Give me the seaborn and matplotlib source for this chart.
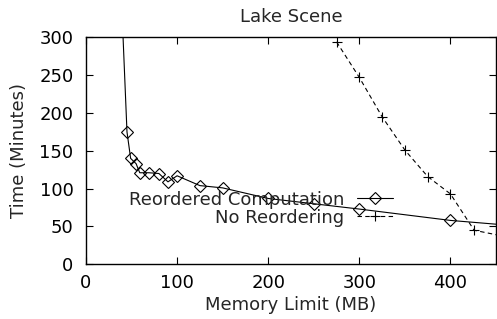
import numpy as np
import pandas as pd
import matplotlib
matplotlib.use("Agg")
import matplotlib.pyplot as plt
import seaborn as sns

# Data
reord_mem = [40, 45, 49, 55, 59, 69, 80, 90, 100, 125, 150, 200, 250, 300, 400, 500]
reord_time = [320, 175, 140, 133, 121, 121, 120, 109, 117, 104, 101, 87, 80, 73, 58, 48]
noreord_mem = [275, 300, 325, 350, 375, 400, 426, 475]
noreord_time = [294, 247, 195, 151, 116, 93, 45, 33]

title = "Lake Scene"
xlabel = "Memory Limit (MB)"
ylabel = "Time (Minutes)"
xticks = [0, 100, 200, 300, 400]
yticks = [0, 50, 100, 150, 200, 250, 300]

sns.set_theme(style="ticks")
plt.rcParams['font.family'] = ['DejaVu Sans']
FS = 13
plt.rcParams['font.size'] = FS

df1 = pd.DataFrame({"mem": reord_mem, "time": reord_time})
df2 = pd.DataFrame({"mem": noreord_mem, "time": noreord_time})

fig = plt.figure(figsize=(4.97, 3.19), dpi=100)
ax = fig.add_axes([0.173, 0.1715, 0.825, 0.7115])

sns.lineplot(data=df1, x="mem", y="time", ax=ax, color="black", linewidth=0.8,
             marker="D", markersize=5.8, markerfacecolor="none", markeredgecolor="black",
             markeredgewidth=0.8, label="Reordered Computation", sort=False)
sns.lineplot(data=df2, x="mem", y="time", ax=ax, color="black", linewidth=0.8,
             linestyle=(0, (4, 3)), marker="+", markersize=7, markeredgewidth=0.8,
             markeredgecolor="black", markerfacecolor="black",
             label="No Reordering", sort=False)

ax.set_xlim(0, 450)
ax.set_ylim(0, 300)
ax.set_xticks(xticks)
ax.set_yticks(yticks)
ax.set_title(title, fontsize=FS, pad=11)
ax.set_xlabel(xlabel, fontsize=FS, labelpad=3)
ax.set_ylabel(ylabel, fontsize=FS, labelpad=8)
ax.tick_params(direction="in", length=5, width=0.8, top=True, right=True,
               labelsize=FS, colors="black")
ax.tick_params(axis="y", pad=9)
ax.tick_params(axis="x", pad=7)
for s in ax.spines.values():
    s.set_linewidth(1.0)
    s.set_color("black")

leg = ax.legend(loc="upper right", bbox_to_anchor=(0.748, 0.325), frameon=False,
                markerfirst=False, borderaxespad=0, borderpad=0, handlelength=2.0,
                labelspacing=0.0, handletextpad=0.7, fontsize=FS)

fig.savefig("out.png", dpi=100)
